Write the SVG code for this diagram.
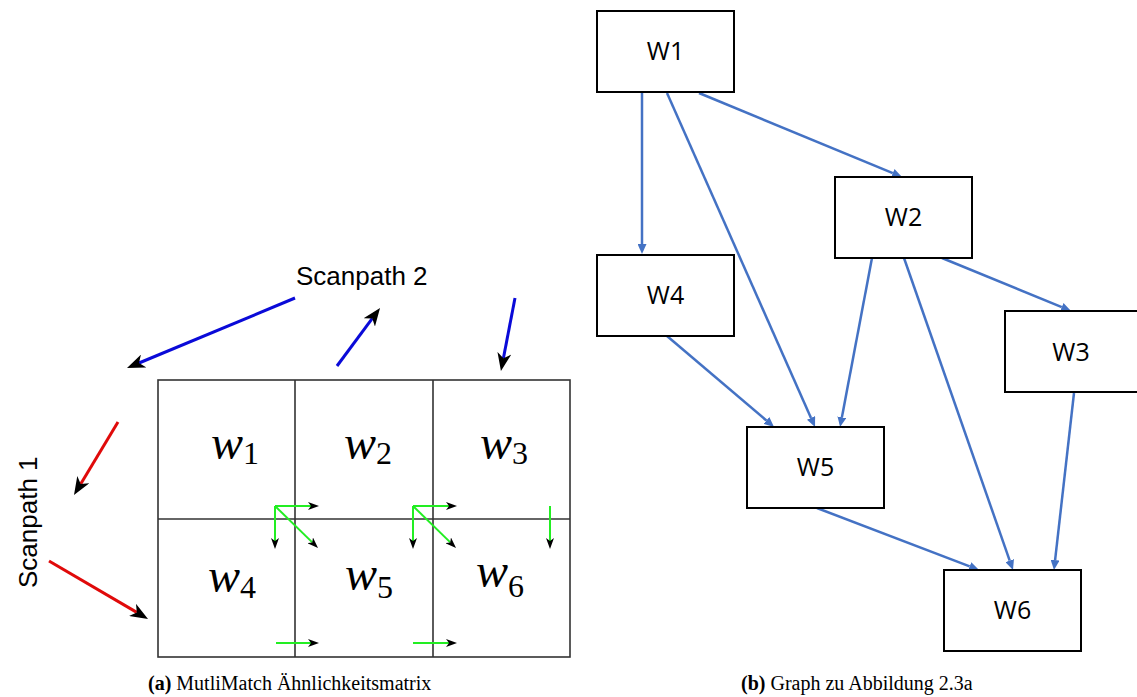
<svg xmlns="http://www.w3.org/2000/svg" width="1137" height="697" viewBox="0 0 1137 697">
<style>
.grid{fill:none;stroke:#333;stroke-width:1.6}
.math{font-family:"Liberation Serif",serif;font-style:italic;font-size:48px;fill:#000}
.sub{font-family:"Liberation Serif",serif;font-size:32px;fill:#000}
.sp{font-family:"Liberation Sans",Arial,sans-serif;font-size:26px;fill:#000}
.cap{font-family:"Liberation Serif",serif;font-size:20px;fill:#000}
.box{fill:#fff;stroke:#000;stroke-width:2}
.lbl{font-family:"Open Sans","Noto Sans",sans-serif;font-size:25px;fill:#000;text-anchor:middle}
.blue{stroke:#0a0ad8;stroke-width:3;fill:none;marker-end:url(#stealth)}
.red{stroke:#e00a0a;stroke-width:3;fill:none;marker-end:url(#stealth)}
.green{stroke:#22ee22;stroke-width:2;fill:none;marker-end:url(#stealthS)}
.edge{stroke:#4472c4;stroke-width:2.5;fill:none;marker-end:url(#tri)}
</style>
<defs>
<marker id="stealth" markerUnits="userSpaceOnUse" viewBox="0 0 18 14" markerWidth="18" markerHeight="14" refX="5" refY="7" orient="auto">
<path d="M18,7 L0,0 L5,7 L0,14 Z" fill="#000"/>
</marker>
<marker id="stealthS" markerUnits="userSpaceOnUse" viewBox="0 0 11 8" markerWidth="11" markerHeight="8" refX="3" refY="4" orient="auto">
<path d="M11,4 L0,0 L3,4 L0,8 Z" fill="#000"/>
</marker>
<marker id="tri" markerUnits="userSpaceOnUse" viewBox="0 0 10 9" markerWidth="10" markerHeight="9" refX="0" refY="4.5" orient="auto">
<path d="M0,0 L10,4.5 L0,9 Z" fill="#4472c4"/>
</marker>
</defs>

<!-- Left: MultiMatch matrix -->
<g id="matrix">
<rect class="grid" x="158" y="380" width="412" height="277"/>
<line class="grid" x1="295" y1="380" x2="295" y2="657"/>
<line class="grid" x1="433" y1="380" x2="433" y2="657"/>
<line class="grid" x1="158" y1="519" x2="570" y2="519"/>
<text class="math" x="211" y="459">w<tspan class="sub" dy="5" font-style="normal">1</tspan></text>
<text class="math" x="344" y="459">w<tspan class="sub" dy="5" font-style="normal">2</tspan></text>
<text class="math" x="480" y="459">w<tspan class="sub" dy="5" font-style="normal">3</tspan></text>
<text class="math" x="208" y="592">w<tspan class="sub" dy="6" font-style="normal">4</tspan></text>
<text class="math" x="345" y="590">w<tspan class="sub" dy="8" font-style="normal">5</tspan></text>
<text class="math" x="476" y="587">w<tspan class="sub" dy="10" font-style="normal">6</tspan></text>
</g>

<g id="scanpath-labels">
<text class="sp" x="296" y="285">Scanpath 2</text>
<text class="sp" transform="translate(37,588) rotate(-90)">Scanpath 1</text>
</g>

<g id="scanpath-arrows">
<line class="blue" x1="295" y1="298" x2="139" y2="363"/>
<line class="blue" x1="337" y1="366" x2="372.3" y2="318.4"/>
<line class="blue" x1="515" y1="298" x2="503.4" y2="358.2"/>
<line class="red" x1="118" y1="422" x2="80.7" y2="483.9"/>
<line class="red" x1="49" y1="561" x2="136.8" y2="612.4"/>
</g>

<g id="match-arrows">
<line class="green" x1="275" y1="506" x2="311" y2="506"/>
<line class="green" x1="275" y1="506" x2="275" y2="541"/>
<line class="green" x1="275" y1="506" x2="312.3" y2="542.4"/>
<line class="green" x1="413" y1="506" x2="449" y2="506"/>
<line class="green" x1="413" y1="506" x2="413" y2="541"/>
<line class="green" x1="413" y1="506" x2="450.3" y2="542.4"/>
<line class="green" x1="550" y1="506" x2="550" y2="541"/>
<line class="green" x1="276" y1="643" x2="311" y2="643"/>
<line class="green" x1="413" y1="643" x2="449" y2="643"/>
</g>

<text class="cap" x="148" y="690"><tspan font-weight="bold">(a)</tspan> MutliMatch Ähnlichkeitsmatrix</text>

<!-- Right: graph -->
<g id="connectors">
<line class="edge" x1="642" y1="93" x2="642" y2="244"/>
<line class="edge" x1="667" y1="93" x2="811" y2="417.9"/>
<line class="edge" x1="699" y1="93" x2="892.8" y2="173.2"/>
<line class="edge" x1="872" y1="258" x2="841.9" y2="417.2"/>
<line class="edge" x1="904" y1="258" x2="1009.7" y2="560.6"/>
<line class="edge" x1="942" y1="258" x2="1061.8" y2="307.2"/>
<line class="edge" x1="667" y1="336" x2="766.4" y2="420.5"/>
<line class="edge" x1="1074" y1="393" x2="1055.1" y2="560.1"/>
<line class="edge" x1="817" y1="508" x2="969.7" y2="566.4"/>
</g>

<g id="W1"><rect class="box" x="597" y="11" width="137" height="81"/><text class="lbl" x="665.5" y="60">W1</text></g>
<g id="W2"><rect class="box" x="835" y="177" width="137" height="81"/><text class="lbl" x="903.5" y="226">W2</text></g>
<g id="W4"><rect class="box" x="597" y="255" width="137" height="81"/><text class="lbl" x="665.5" y="304">W4</text></g>
<g id="W3"><rect class="box" x="1005" y="311" width="137" height="81"/><text class="lbl" x="1071" y="361">W3</text></g>
<g id="W5"><rect class="box" x="747" y="427" width="137" height="81"/><text class="lbl" x="815.5" y="476">W5</text></g>
<g id="W6"><rect class="box" x="944" y="570" width="137" height="81"/><text class="lbl" x="1012.5" y="619">W6</text></g>

<text class="cap" x="741" y="690"><tspan font-weight="bold">(b)</tspan> Graph zu Abbildung 2.3a</text>
</svg>
